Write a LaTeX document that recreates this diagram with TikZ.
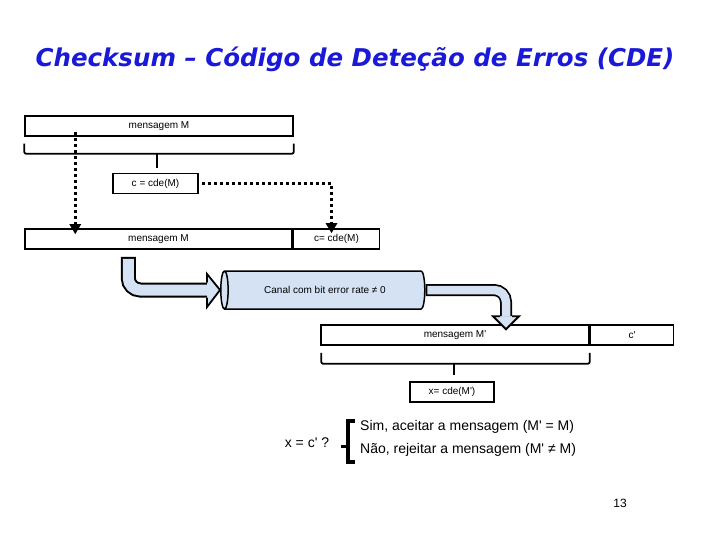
\documentclass[tikz,border=0pt]{standalone}
\usepackage{fontspec}
\setmainfont{Liberation Sans}
\newfontfamily\titlefont{DejaVu Sans Bold Oblique}
\usepackage{xcolor}
\usetikzlibrary{arrows.meta,shapes.geometric,calc}
\definecolor{titleblue}{RGB}{25,25,215}
\definecolor{chanfill}{RGB}{212,226,244}
\newcommand{\apos}{\textquotesingle}

\begin{document}
\begin{tikzpicture}[x=1pt,y=-1pt,
  field/.style={draw,line width=1.5pt,minimum height=20pt,inner sep=0pt,font=\fontsize{10}{12}\selectfont},
  channel/.style={shape=cylinder,shape border rotate=180,aspect=1,draw,line width=1.5pt,fill=chanfill,
    minimum width=38pt,minimum height=204pt,inner sep=0pt,font=\fontsize{10}{12}\selectfont},
  bracket/.style={line width=1.8pt,rounded corners=2pt},
  dotarrow/.style={line width=3pt,dash pattern=on 3pt off 3pt,-{Triangle[width=11pt,length=10pt]}},
  bigtext/.style={font=\fontsize{14}{16}\selectfont,inner sep=0pt}]
\useasboundingbox (0,0) rectangle (720,540);

\node[font=\titlefont\fontsize{24.5}{28}\selectfont,text=titleblue,anchor=base] (title) at (355,67)
  {Checksum – Código de Deteção de Erros (CDE)};

% emissor
\node[field,minimum width=268pt] (msg1) at (159,126) {mensagem M};
\draw[bracket] ($(msg1.south west)+(0,7)$) -- ++(0,10) -| ($(msg1.south east)+(0,7)$);
\coordinate (b1) at ($(msg1.south)+(-2,17)$);
\node[field,minimum width=85pt] (cde1) at (155.5,183.5) {c = cde(M)};
\draw[bracket] (b1) -- ($(b1 |- cde1.north)+(0,-5)$);

\node[field,minimum width=267pt] (msg2) at (158.5,239) {mensagem M};
\node[field,minimum width=86pt,anchor=west] (cde2) at (msg2.east) {c= cde(M)};

\draw[dotarrow] ($(msg1.south west)+(51,-5)$) -- ($(msg2.north west)+(51,6)$);
\draw[dotarrow] ($(cde1.east)+(3,0)$) -| ($(cde2.north)+(-5,5)$);

% canal
\node[channel] (canal) at (325,290) {Canal com bit error rate ≠ 0};

\coordinate (inA) at ($(msg2.south west)+(104,7)$);
\coordinate (tipA) at (canal.west);
\draw[line width=15pt,rounded corners=12pt] (inA) |- ($(tipA)+(-13,0)$);
\draw[line width=11pt,chanfill,rounded corners=12pt,shorten <=2pt] (inA) |- ($(tipA)+(-13,0)$);
\fill[chanfill] ($(tipA)+(-13,-16)$) -- (tipA) -- ($(tipA)+(-13,17)$) -- cycle;
\draw[line width=1.8pt] ($(tipA)+(-13,-7.5)$) -- ++(0,-8.5) -- (tipA) -- ($(tipA)+(-13,17)$) -- ++(0,-9.5);

% recetor
\node[field,minimum width=268pt] (msg3) at (455,335) {mensagem M\apos};
\node[field,minimum width=83pt,anchor=west] (cpr3) at (msg3.east) {c\apos};

\coordinate (tipB) at ($(msg3.north)+(51,5)$);
\draw[line width=12pt,rounded corners=12pt] (canal.east) -| ($(tipB)+(0,-13)$);
\draw[line width=8.5pt,chanfill,rounded corners=12pt,shorten <=1.75pt] (canal.east) -| ($(tipB)+(0,-13)$);
\fill[chanfill] ($(tipB)+(-13,-13)$) -- (tipB) -- ($(tipB)+(13,-13)$) -- cycle;
\draw[line width=1.8pt] ($(tipB)+(-6,-13)$) -- ++(-7,0) -- (tipB) -- ($(tipB)+(13,-13)$) -- ++(-7,0);

\draw[bracket] ($(msg3.south west)+(1,7)$) -- ++(0,11) -| ($(msg3.south east)+(0,7)$);
\coordinate (b3) at ($(msg3.south)+(-1,18)$);
\node[field,minimum width=84pt] (cde3) at (452,392) {x= cde(M\apos)};
\draw[bracket] (b3) -- ($(b3 |- cde3.north)+(0,-6)$);

% decisao
\node[bigtext] (test) at (307,443) {x = c\apos\ ?};
\coordinate (choice) at (348,446);
\draw[line width=3.5pt] (355,421) -- (348,421) -- (348,462) -- (355,462);
\draw[line width=3pt] (choice) -- ++(-7,0);
\node[bigtext,anchor=west] (sim) at (360,427) {Sim, aceitar a mensagem (M\apos\ = M)};
\node[bigtext,anchor=west] (nao) at (360,450) {Não, rejeitar a mensagem (M\apos\ ≠ M)};

\node[font=\fontsize{12}{14}\selectfont] (page) at (620,503) {13};
\end{tikzpicture}
\end{document}
